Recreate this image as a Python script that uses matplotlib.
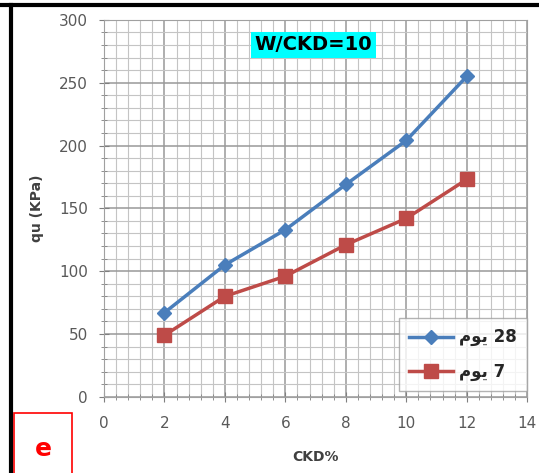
import matplotlib.pyplot as plt
from matplotlib.lines import Line2D
from matplotlib.patches import Rectangle
from matplotlib.ticker import MultipleLocator

# CKD% vs qu
ckd = [2, 4, 6, 8, 10, 12]
qu_28 = [67, 105, 133, 169, 204, 255]
qu_7 = [49, 80, 96, 121, 142, 173]

# "يوم" written in presentation forms, visual order (no bidi in matplotlib)
day = "\uFEE1\uFEEE\uFEF3"
label_28 = day + " 28"
label_7 = day + " 7"

fig = plt.figure(figsize=(5.39, 4.73), dpi=100)
ax = fig.add_axes([0.193, 0.161, 0.785, 0.797])

ax.plot(ckd, qu_28, color='#4A7EBB', marker='D', markersize=7, linewidth=2.5, label=label_28)
ax.plot(ckd, qu_7, color='#BE4B48', marker='s', markersize=10, linewidth=2.5, label=label_7)

ax.set_xlim(0, 14)
ax.set_ylim(0, 300)
ax.xaxis.set_major_locator(MultipleLocator(2))
ax.xaxis.set_minor_locator(MultipleLocator(0.4))
ax.yaxis.set_major_locator(MultipleLocator(50))
ax.yaxis.set_minor_locator(MultipleLocator(10))
ax.grid(which='major', color='#999999', linewidth=1.1)
ax.grid(which='minor', color='#c4c4c4', linewidth=0.8)
ax.set_axisbelow(True)

for s in ax.spines.values():
    s.set_color('#a0a0a0')
ax.tick_params(which='both', direction='inout', color='#7f7f7f', labelcolor='#595959', labelsize=11)
ax.tick_params(which='major', length=7)
ax.tick_params(which='minor', length=4)
ax.tick_params(axis='x', pad=10)
ax.tick_params(axis='y', pad=8)

ax.set_xlabel('CKD%', fontsize=10, fontweight='bold', color='#404040', labelpad=14)
ax.set_ylabel('qu (KPa)', fontsize=10, fontweight='bold', color='#404040', labelpad=11)

leg = ax.legend(loc='lower right', bbox_to_anchor=(1.0, 0.015),
                prop={'weight': 'bold', 'size': 12}, frameon=True, fancybox=False,
                edgecolor='#a0a0a0', handlelength=2.6, handletextpad=0.4,
                labelspacing=1.0, borderpad=0.6, borderaxespad=0.0)
leg.get_frame().set_linewidth(1.0)
for t in leg.get_texts():
    t.set_color('#262626')

# title box
fig.text(0.582, 0.905, 'W/CKD=10', fontsize=14, fontweight='bold', ha='center', va='center',
         bbox=dict(facecolor='#00FFFF', edgecolor='none', pad=2.5))

# "e" label box
fig.patches.append(Rectangle((0.026, -0.01), 0.108, 0.137, transform=fig.transFigure,
                             facecolor='white', edgecolor='red', linewidth=1.2))
fig.text(0.08, 0.05, 'e', color='red', fontsize=18, fontweight='bold', ha='center', va='center')

# outer frame lines
fig.add_artist(Line2D([0.0, 1.0], [0.99, 0.99], color='black', linewidth=3))
fig.add_artist(Line2D([0.02, 0.02], [0.0, 0.99], color='black', linewidth=3))

fig.savefig('out.png', dpi=100)
